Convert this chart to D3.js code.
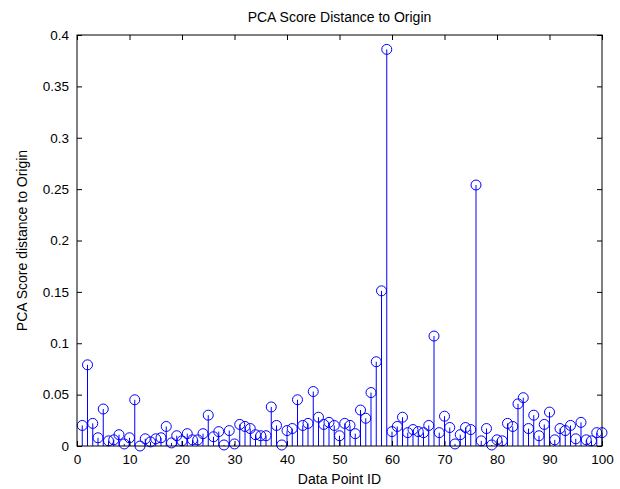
<!DOCTYPE html>
<html>
<head>
<meta charset="utf-8">
<script src="https://cdn.jsdelivr.net/npm/d3@7"></script>
<style>
  body { margin: 0; background: #fff; }
  text { font-family: "Liberation Sans", Arial, sans-serif; }
</style>
</head>
<body>
<div id="chart"></div>
<script>
// Set dimensions and margins for the plot
const width = 620;
const height = 489;
const margin = {left: 77, right: 18, top: 35, bottom: 43};

// distance values, data point 1..100
const distances = [
  0.020, 0.079, 0.022, 0.008, 0.036, 0.005, 0.006, 0.011, 0.002, 0.008,
  0.045, 0.000, 0.007, 0.004, 0.007, 0.008, 0.019, 0.003, 0.010, 0.005,
  0.012, 0.006, 0.006, 0.012, 0.030, 0.009, 0.014, 0.001, 0.015, 0.002,
  0.021, 0.019, 0.017, 0.011, 0.010, 0.010, 0.038, 0.020, 0.001, 0.015,
  0.017, 0.045, 0.020, 0.022, 0.053, 0.028, 0.021, 0.023, 0.020, 0.010,
  0.022, 0.020, 0.012, 0.035, 0.027, 0.052, 0.082, 0.151, 0.386, 0.014,
  0.019, 0.028, 0.013, 0.016, 0.014, 0.013, 0.020, 0.107, 0.013, 0.029,
  0.018, 0.002, 0.011, 0.018, 0.016, 0.254, 0.005, 0.017, 0.001, 0.006,
  0.005, 0.022, 0.019, 0.041, 0.047, 0.017, 0.030, 0.010, 0.021, 0.033,
  0.006, 0.017, 0.015, 0.020, 0.007, 0.023, 0.006, 0.005, 0.013, 0.013
];
const ids = d3.range(1, distances.length + 1);

const xTicks = [0, 10, 20, 30, 40, 50, 60, 70, 80, 90, 100];
const yTicks = [0, 0.05, 0.1, 0.15, 0.2, 0.25, 0.3, 0.35, 0.4];

const svg = d3.select("#chart")
  .append("svg")
  .attr("width", width)
  .attr("height", height);

const xScale = d3.scaleLinear()
  .domain([0, 100])
  .range([margin.left, width - margin.right]);

const yScale = d3.scaleLinear()
  .domain([0, 0.4])
  .range([height - margin.bottom, margin.top]);

const x0 = margin.left, x1 = width - margin.right;
const y0 = height - margin.bottom, y1 = margin.top;

// stems
svg.append("g")
  .selectAll("line")
  .data(distances)
  .enter()
  .append("line")
    .attr("x1", (d, i) => xScale(ids[i]))
    .attr("x2", (d, i) => xScale(ids[i]))
    .attr("y1", yScale(0))
    .attr("y2", d => yScale(d))
    .attr("stroke", "#0000ff")
    .attr("stroke-width", 1);

// circle markers
svg.append("g")
  .selectAll("circle")
  .data(distances)
  .enter()
  .append("circle")
    .attr("cx", (d, i) => xScale(ids[i]))
    .attr("cy", d => yScale(d))
    .attr("r", 5)
    .attr("fill", "none")
    .attr("stroke", "#0000ff")
    .attr("stroke-width", 1);

// axes (ticks pointing inward, like matlab)
const fmtY = d => d === 0 ? "0" : d3.format("")(+d.toFixed(2));

svg.append("g")
  .attr("transform", `translate(0,${y0})`)
  .call(d3.axisBottom(xScale).tickValues(xTicks).tickSize(-5).tickPadding(8))
  .call(g => g.select(".domain").remove());

svg.append("g")
  .attr("transform", `translate(0,${y1})`)
  .call(d3.axisTop(xScale).tickValues(xTicks).tickSize(-5).tickFormat(""))
  .call(g => g.select(".domain").remove());

svg.append("g")
  .attr("transform", `translate(${x0},0)`)
  .call(d3.axisLeft(yScale).tickValues(yTicks).tickSize(-5).tickPadding(8).tickFormat(fmtY))
  .call(g => g.select(".domain").remove());

svg.append("g")
  .attr("transform", `translate(${x1},0)`)
  .call(d3.axisRight(yScale).tickValues(yTicks).tickSize(-5).tickFormat(""))
  .call(g => g.select(".domain").remove());

svg.selectAll(".tick text")
  .attr("font-size", "13.5px")
  .attr("font-family", "Liberation Sans, Arial, sans-serif")
  .attr("fill", "#000");
svg.selectAll(".tick line").attr("stroke", "#000");

// box
svg.append("rect")
  .attr("x", x0)
  .attr("y", y1)
  .attr("width", x1 - x0)
  .attr("height", y0 - y1)
  .attr("fill", "none")
  .attr("stroke", "#000")
  .attr("stroke-width", 1);

// title and labels
svg.append("text")
  .attr("x", (x0 + x1) / 2)
  .attr("y", 22)
  .attr("text-anchor", "middle")
  .attr("font-size", "14px")
  .text("PCA Score Distance to Origin");

svg.append("text")
  .attr("x", (x0 + x1) / 2)
  .attr("y", 484)
  .attr("text-anchor", "middle")
  .attr("font-size", "14px")
  .text("Data Point ID");

svg.append("text")
  .attr("transform", `translate(27,${(y0 + y1) / 2}) rotate(-90)`)
  .attr("text-anchor", "middle")
  .attr("font-size", "14px")
  .text("PCA Score distance to Origin");
</script>
</body>
</html>
